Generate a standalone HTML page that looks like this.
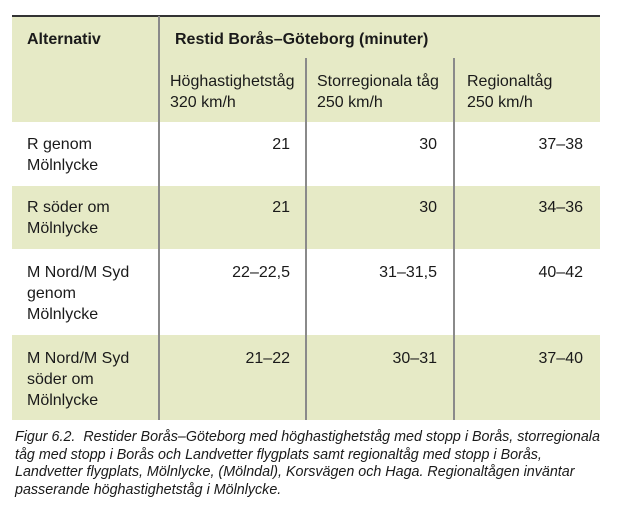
<!DOCTYPE html>
<html><head><meta charset="utf-8"><style>
body{margin:0;width:620px;height:510px;background:#fff;position:relative;font-family:"Liberation Sans",sans-serif;color:#1a1a1a;overflow:hidden}
div{position:absolute}
.t{font-size:16px;line-height:21px;white-space:nowrap}
.b{font-weight:bold}
.g{background:#e6eac6;left:12px;width:588px}
.v{background:#8a8a8a;width:1.5px}
.r{text-align:right}
.cap{left:15px;top:429px;font-size:14.3px;line-height:17.6px;font-style:italic;white-space:nowrap}
</style></head><body>
<div class="g" style="top:16px;height:106px"></div>
<div class="g" style="top:186px;height:63px"></div>
<div class="g" style="top:335px;height:85px"></div>
<div style="left:12px;top:15px;width:588px;height:2px;background:#333"></div>
<div class="v" style="left:158px;top:16px;height:404px"></div>
<div class="v" style="left:305px;top:58px;height:362px"></div>
<div class="v" style="left:453px;top:58px;height:362px"></div>

<div class="t b" style="left:27px;top:29px">Alternativ</div>
<div class="t b" style="left:175px;top:29px">Restid Borås–Göteborg (minuter)</div>
<div class="t" style="left:170px;top:71px">Höghastighetståg<br>320 km/h</div>
<div class="t" style="left:317px;top:71px">Storregionala tåg<br>250 km/h</div>
<div class="t" style="left:467px;top:71px">Regionaltåg<br>250 km/h</div>

<div class="t" style="left:27px;top:134px">R genom<br>Mölnlycke</div>
<div class="t" style="left:27px;top:197px">R söder om<br>Mölnlycke</div>
<div class="t" style="left:27px;top:262px">M Nord/M Syd<br>genom<br>Mölnlycke</div>
<div class="t" style="left:27px;top:348px">M Nord/M Syd<br>söder om<br>Mölnlycke</div>

<div class="t r" style="left:160px;width:130px;top:134px">21</div>
<div class="t r" style="left:307px;width:130px;top:134px">30</div>
<div class="t r" style="left:455px;width:128px;top:134px">37–38</div>
<div class="t r" style="left:160px;width:130px;top:197px">21</div>
<div class="t r" style="left:307px;width:130px;top:197px">30</div>
<div class="t r" style="left:455px;width:128px;top:197px">34–36</div>
<div class="t r" style="left:160px;width:130px;top:262px">22–22,5</div>
<div class="t r" style="left:307px;width:130px;top:262px">31–31,5</div>
<div class="t r" style="left:455px;width:128px;top:262px">40–42</div>
<div class="t r" style="left:160px;width:130px;top:348px">21–22</div>
<div class="t r" style="left:307px;width:130px;top:348px">30–31</div>
<div class="t r" style="left:455px;width:128px;top:348px">37–40</div>

<div class="cap">Figur 6.2.&nbsp; Restider Borås–Göteborg med höghastighetståg med stopp i Borås, storregionala<br>tåg med stopp i Borås och Landvetter flygplats samt regionaltåg med stopp i Borås,<br>Landvetter flygplats, Mölnlycke, (Mölndal), Korsvägen och Haga. Regionaltågen inväntar<br>passerande höghastighetståg i Mölnlycke.</div>
</body></html>
